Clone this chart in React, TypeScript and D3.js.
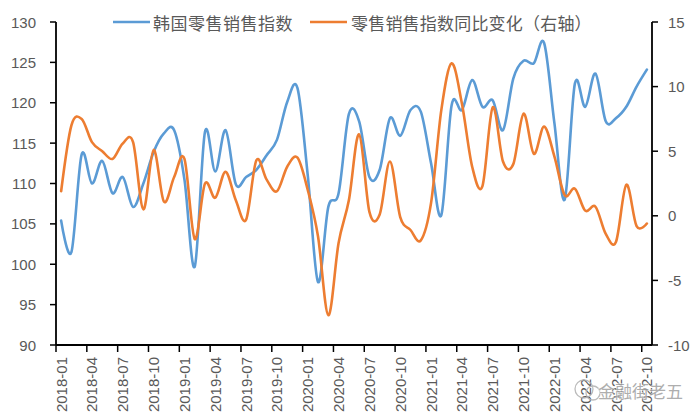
import React from "react";
import * as d3 from "d3";

const months: string[] = [
  "2018-01","2018-02","2018-03","2018-04","2018-05","2018-06","2018-07","2018-08","2018-09","2018-10","2018-11","2018-12",
  "2019-01","2019-02","2019-03","2019-04","2019-05","2019-06","2019-07","2019-08","2019-09","2019-10","2019-11","2019-12",
  "2020-01","2020-02","2020-03","2020-04","2020-05","2020-06","2020-07","2020-08","2020-09","2020-10","2020-11","2020-12",
  "2021-01","2021-02","2021-03","2021-04","2021-05","2021-06","2021-07","2021-08","2021-09","2021-10","2021-11","2021-12",
  "2022-01","2022-02","2022-03","2022-04","2022-05","2022-06","2022-07","2022-08","2022-09","2022-10",
];

const retailIndex: number[] = [
  105.4, 101.5, 113.6, 110.0, 112.8, 108.8, 110.8, 107.1, 110.0, 113.9, 116.2, 116.6,
  110.5, 99.7, 116.4, 111.5, 116.6, 109.9, 110.8, 111.7, 113.5, 115.4, 120.1, 121.8,
  111.0, 97.8, 107.1, 108.8, 118.6, 117.7, 110.8, 111.7, 118.1, 115.9, 119.1, 118.9,
  112.5, 106.1, 119.7, 119.1, 122.8, 119.5, 120.3, 116.6, 123.0, 125.2, 124.9, 127.4,
  117.5, 108.0, 122.4, 119.5, 123.6, 117.7, 118.1, 119.5, 122.0, 124.1,
];

const retailYoY: number[] = [
  1.9, 7.0, 7.5, 5.7, 5.0, 4.4, 5.6, 5.7, 0.5, 5.1, 1.1, 3.0,
  4.4, -1.8, 2.5, 1.4, 3.4, 1.2, -0.3, 4.3, 2.8, 1.9, 3.8, 4.5,
  2.0, -1.6, -7.7, -2.1, 1.2, 6.3, 0.3, 0.1, 4.2, -0.1, -1.1, -1.9,
  1.0, 8.2, 11.8, 8.7, 3.8, 2.3, 8.4, 4.2, 4.0, 7.9, 4.8, 6.9,
  4.6, 1.6, 2.1, 0.4, 0.7, -1.4, -2.0, 2.4, -0.8, -0.6,
];

const leftTicks: number[] = [90, 95, 100, 105, 110, 115, 120, 125, 130];
const rightTicks: number[] = [-10, -5, 0, 5, 10, 15];
const seriesNames: string[] = ["韩国零售销售指数", "零售销售指数同比变化（右轴）"];
const watermark = "金融街老五";

const W = 700;
const H = 420;
const M = { left: 56, right: 652, top: 22, bottom: 345 };
const BLUE = "#5B9BD5";
const ORANGE = "#ED7D31";
const TEXT = "#595959";
const FONT = "'Noto Sans CJK SC', 'Liberation Sans', sans-serif";

export default function App() {
  const x = d3.scaleBand<string>().domain(months).range([M.left, M.right]).paddingInner(0).paddingOuter(0);
  const yL = d3.scaleLinear().domain([90, 130]).range([M.bottom, M.top]);
  const yR = d3.scaleLinear().domain([-10, 15]).range([M.bottom, M.top]);
  const cx = (m: string) => (x(m) as number) + x.bandwidth() / 2;

  const lineL = d3
    .line<number>()
    .x((_, i) => cx(months[i]))
    .y((d) => yL(d))
    .curve(d3.curveCatmullRom.alpha(0));
  const lineR = d3
    .line<number>()
    .x((_, i) => cx(months[i]))
    .y((d) => yR(d))
    .curve(d3.curveCatmullRom.alpha(0));

  const labelMonths = months.filter((_, i) => i % 3 === 0);

  return (
    <div style={{ position: "fixed", left: 0, top: 0, width: W, height: H, background: "#fff" }}>
      <svg width={W} height={H} style={{ display: "block", fontFamily: FONT }}>
        <rect x={0} y={0} width={W} height={H} fill="#fff" />

        {/* lines */}
        <path d={lineL(retailIndex) || ""} fill="none" stroke={BLUE} strokeWidth={2.6} strokeLinejoin="round" strokeLinecap="round" />
        <path d={lineR(retailYoY) || ""} fill="none" stroke={ORANGE} strokeWidth={2.6} strokeLinejoin="round" strokeLinecap="round" />

        {/* left axis */}
        <line x1={M.left} x2={M.left} y1={M.top} y2={M.bottom} stroke="#000" strokeWidth={1.8} />
        {leftTicks.map((t) => (
          <g key={"l" + t}>
            <line x1={M.left - 6} x2={M.left} y1={yL(t)} y2={yL(t)} stroke="#000" strokeWidth={1.5} />
            <text x={36} y={yL(t)} textAnchor="end" dominantBaseline="central" fontSize={15} fill={TEXT} fontFamily="'Liberation Sans', sans-serif">
              {t}
            </text>
          </g>
        ))}

        {/* right axis */}
        <line x1={M.right} x2={M.right} y1={M.top} y2={M.bottom} stroke="#000" strokeWidth={1.8} />
        {rightTicks.map((t) => (
          <g key={"r" + t}>
            <line x1={M.right} x2={M.right + 6} y1={yR(t)} y2={yR(t)} stroke="#000" strokeWidth={1.5} />
            <text x={668} y={yR(t)} textAnchor="start" dominantBaseline="central" fontSize={15} fill={TEXT} fontFamily="'Liberation Sans', sans-serif">
              {t}
            </text>
          </g>
        ))}

        {/* bottom axis */}
        <line x1={M.left} x2={M.right} y1={M.bottom} y2={M.bottom} stroke="#000" strokeWidth={1.8} />
        {labelMonths.map((m) => (
          <g key={m}>
            <line x1={x(m) as number} x2={x(m) as number} y1={M.bottom} y2={M.bottom + 7} stroke="#000" strokeWidth={1.5} />
            <text
              transform={`translate(${cx(m)},${M.bottom + 12}) rotate(-90)`}
              textAnchor="end"
              dominantBaseline="central"
              fontSize={15}
              fill={TEXT}
              fontFamily="'Liberation Sans', sans-serif"
            >
              {m}
            </text>
          </g>
        ))}

        {/* legend */}
        <line x1={113} x2={150} y1={22} y2={22} stroke={BLUE} strokeWidth={2.6} />
        <text x={153} y={22} dominantBaseline="central" fontSize={17} fill={TEXT} letterSpacing={0.5}>
          {seriesNames[0]}
        </text>
        <line x1={310} x2={347} y1={22} y2={22} stroke={ORANGE} strokeWidth={2.6} />
        <text x={351} y={22} dominantBaseline="central" fontSize={17} fill={TEXT} letterSpacing={0.2}>
          {seriesNames[1]}
        </text>

        {/* watermark */}
        <g opacity={0.85}>
          <circle cx={584} cy={389} r={9} fill="none" stroke="#b0b0b0" strokeWidth={1.3} />
          <circle cx={593} cy={393} r={7} fill="none" stroke="#b0b0b0" strokeWidth={1.3} />
          <text
            x={598}
            y={390}
            dominantBaseline="central"
            fontSize={17}
            fill="#a0a0a0"
            stroke="#fff"
            strokeWidth={0.8}
            paintOrder="stroke"
          >
            {watermark}
          </text>
        </g>
      </svg>
    </div>
  );
}
